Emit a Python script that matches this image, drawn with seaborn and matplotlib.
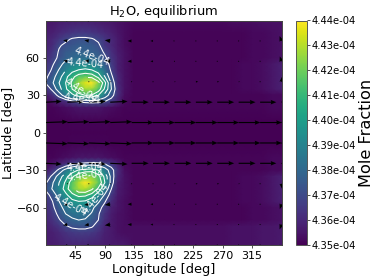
import numpy as np
import matplotlib
matplotlib.use("Agg")
import matplotlib.pyplot as plt
import seaborn as sns

# Mole fraction table (units of 1e-4): west part of each row (lon_west), then east part (lon_east).
lon_west = [0, 10, 20, 30, 40, 50, 60, 70, 80, 90, 100, 110, 120]
lon_east = [135, 150, 165, 180, 195, 210, 225, 240, 255, 270, 285, 300, 315, 330, 345, 360]
lat_grid = [90, 80, 75, 70, 65, 60, 55, 50, 45, 40, 35, 30, 25, 20, 10, 0,
            -10, -20, -25, -30, -35, -40, -45, -50, -55, -60, -65, -70, -75, -80, -90]

west_rows = [
    [4.355, 4.355, 4.356, 4.357, 4.357, 4.357, 4.357, 4.357, 4.356, 4.355, 4.355, 4.354, 4.353],
    [4.357, 4.358, 4.360, 4.362, 4.364, 4.365, 4.365, 4.364, 4.362, 4.360, 4.358, 4.355, 4.353],
    [4.358, 4.360, 4.364, 4.368, 4.371, 4.372, 4.372, 4.371, 4.368, 4.364, 4.360, 4.356, 4.353],
    [4.358, 4.361, 4.369, 4.372, 4.374, 4.376, 4.376, 4.375, 4.372, 4.364, 4.360, 4.356, 4.353],
    [4.359, 4.364, 4.371, 4.375, 4.377, 4.378, 4.378, 4.377, 4.375, 4.368, 4.362, 4.357, 4.354],
    [4.360, 4.366, 4.372, 4.377, 4.380, 4.382, 4.382, 4.381, 4.378, 4.372, 4.364, 4.358, 4.354],
    [4.362, 4.369, 4.376, 4.384, 4.389, 4.391, 4.391, 4.389, 4.385, 4.376, 4.366, 4.358, 4.354],
    [4.364, 4.372, 4.381, 4.390, 4.397, 4.401, 4.403, 4.401, 4.395, 4.382, 4.368, 4.358, 4.354],
    [4.368, 4.376, 4.386, 4.397, 4.407, 4.415, 4.418, 4.416, 4.407, 4.390, 4.372, 4.360, 4.354],
    [4.371, 4.379, 4.390, 4.400, 4.412, 4.426, 4.436, 4.440, 4.424, 4.403, 4.378, 4.360, 4.354],
    [4.362, 4.373, 4.386, 4.398, 4.410, 4.421, 4.428, 4.427, 4.416, 4.398, 4.380, 4.362, 4.354],
    [4.355, 4.362, 4.374, 4.386, 4.397, 4.405, 4.410, 4.409, 4.400, 4.386, 4.374, 4.362, 4.353],
    [4.352, 4.354, 4.358, 4.362, 4.367, 4.371, 4.373, 4.374, 4.373, 4.370, 4.365, 4.358, 4.352],
    [4.351, 4.351, 4.352, 4.353, 4.354, 4.355, 4.355, 4.355, 4.355, 4.354, 4.353, 4.352, 4.351],
    [4.350, 4.350, 4.350, 4.350, 4.351, 4.351, 4.351, 4.351, 4.351, 4.351, 4.350, 4.350, 4.350],
    [4.350, 4.350, 4.350, 4.350, 4.350, 4.350, 4.350, 4.350, 4.350, 4.350, 4.350, 4.350, 4.350],
    [4.350, 4.350, 4.350, 4.350, 4.351, 4.351, 4.351, 4.351, 4.351, 4.351, 4.350, 4.350, 4.350],
    [4.351, 4.351, 4.352, 4.353, 4.354, 4.355, 4.355, 4.355, 4.355, 4.354, 4.353, 4.352, 4.351],
    [4.352, 4.354, 4.358, 4.362, 4.367, 4.371, 4.373, 4.374, 4.373, 4.370, 4.365, 4.358, 4.352],
    [4.355, 4.362, 4.373, 4.384, 4.394, 4.401, 4.405, 4.406, 4.400, 4.386, 4.374, 4.362, 4.353],
    [4.362, 4.373, 4.385, 4.396, 4.408, 4.418, 4.423, 4.423, 4.414, 4.397, 4.376, 4.360, 4.354],
    [4.369, 4.379, 4.390, 4.402, 4.416, 4.430, 4.440, 4.432, 4.419, 4.400, 4.375, 4.358, 4.354],
    [4.372, 4.381, 4.392, 4.405, 4.418, 4.428, 4.430, 4.422, 4.408, 4.389, 4.370, 4.357, 4.354],
    [4.366, 4.374, 4.385, 4.397, 4.407, 4.413, 4.412, 4.406, 4.393, 4.378, 4.365, 4.356, 4.354],
    [4.363, 4.370, 4.380, 4.390, 4.397, 4.400, 4.399, 4.393, 4.382, 4.371, 4.361, 4.355, 4.353],
    [4.361, 4.368, 4.376, 4.384, 4.389, 4.390, 4.389, 4.383, 4.374, 4.366, 4.358, 4.355, 4.353],
    [4.360, 4.365, 4.373, 4.380, 4.384, 4.385, 4.384, 4.379, 4.371, 4.363, 4.357, 4.354, 4.353],
    [4.359, 4.363, 4.369, 4.375, 4.378, 4.380, 4.379, 4.375, 4.370, 4.361, 4.356, 4.354, 4.353],
    [4.358, 4.360, 4.364, 4.369, 4.372, 4.373, 4.373, 4.371, 4.366, 4.359, 4.356, 4.354, 4.353],
    [4.357, 4.358, 4.360, 4.363, 4.365, 4.366, 4.366, 4.365, 4.362, 4.358, 4.356, 4.354, 4.353],
    [4.357, 4.357, 4.358, 4.359, 4.359, 4.359, 4.359, 4.358, 4.358, 4.357, 4.356, 4.356, 4.356],
]
east_polar = [4.352, 4.352, 4.352, 4.352, 4.352, 4.352, 4.352, 4.352, 4.352, 4.352, 4.353, 4.353, 4.353, 4.354, 4.354, 4.354]
east_high  = [4.351, 4.351, 4.351, 4.351, 4.351, 4.351, 4.351, 4.351, 4.351, 4.351, 4.351, 4.351, 4.352, 4.352, 4.353, 4.354]
east_bump  = [4.351, 4.351, 4.351, 4.351, 4.351, 4.351, 4.351, 4.351, 4.351, 4.351, 4.351, 4.352, 4.352, 4.353, 4.355, 4.358]
east_low   = [4.351, 4.351, 4.351, 4.351, 4.351, 4.351, 4.351, 4.351, 4.351, 4.351, 4.351, 4.351, 4.351, 4.351, 4.352, 4.352]
east_zero  = [4.350, 4.350, 4.350, 4.350, 4.350, 4.350, 4.350, 4.350, 4.350, 4.350, 4.350, 4.350, 4.350, 4.350, 4.350, 4.350]
east_south = [4.353, 4.353, 4.353, 4.353, 4.353, 4.353, 4.353, 4.353, 4.353, 4.353, 4.354, 4.354, 4.354, 4.355, 4.355, 4.356]
east_rows = ([east_polar] + [east_high] * 5 + [east_bump] * 5 + [east_low] * 3 + [east_zero] * 3 +
             [east_low] * 3 + [east_bump] * 5 + [east_high] * 3 + [east_south] * 3)

# Wind vectors
lon_wind = [0, 32.7, 65.5, 98.2, 130.9, 163.6, 196.4, 229.1, 261.8, 294.5, 327.3, 360]
lat_wind = [90, 73.6, 57.3, 40.9, 24.5, 8.2, -8.2, -24.5, -40.9, -57.3, -73.6, -90]
u_90  = [-40, -120, -140, -100, -40, -30, -10, -10, -40, -40, -30, -40]
u_74  = [-90, -200, -210, -260, -190, -120, -70, -40, -30, -30, -40, -90]
u_57  = [-80, -190, -220, -260, -190, -120, -50, -30, -30, -30, -30, -80]
u_41  = [20, 20, 20, 20, 30, 40, 60, 110, 90, 60, 40, 20]
u_25  = [740, 800, 810, 820, 810, 800, 800, 800, 800, 800, 770, 740]
u_08  = [1030, 1030, 1030, 1030, 1030, 1030, 1030, 1030, 1030, 1030, 1030, 1030]
u_m08 = [1030, 1030, 1030, 1030, 1030, 1030, 1030, 1030, 1030, 1030, 1030, 1030]
u_m25 = [740, 800, 810, 820, 810, 800, 800, 800, 800, 800, 770, 740]
u_m41 = [20, 20, 20, 20, 30, 40, 60, 90, 90, 60, 40, 20]
u_m57 = [-80, -190, -220, -260, -190, -120, -50, -30, -30, -30, -30, -80]
u_m74 = [-90, -200, -210, -260, -190, -120, -70, -40, -30, -30, -40, -90]
u_m90 = [-40, -120, -140, -100, -40, -30, -10, -10, -40, -40, -30, -40]
v_north = [20, 20, 20, 20, 0, 0, 0, 0, 0, 0, 0, 120]
v_south = [-20, -20, -20, -20, 0, 0, 0, 0, 0, 0, 0, -120]
u_rows = [u_90, u_74, u_57, u_41, u_25, u_08, u_m08, u_m25, u_m41, u_m57, u_m74, u_m90]

cbar_ticks = [4.35, 4.36, 4.37, 4.38, 4.39, 4.40, 4.41, 4.42, 4.43, 4.44]
contour_levels = [4.37, 4.38, 4.39, 4.40, 4.41, 4.42]
lon_ticks = [45, 90, 135, 180, 225, 270, 315]
lat_ticks = [-60, -30, 0, 30, 60]
label_spots = [(71, 64), (60, 58), (53, 34), (56, 28), (60, -28), (60, -33), (33, -60), (76, -53)]

sns.set_theme(style="ticks", rc={"font.family": "DejaVu Sans"})
cmap = sns.color_palette("viridis", as_cmap=True)

W, H = 374, 280
fig = plt.figure(figsize=(W / 100, H / 100), dpi=100)
ax = fig.add_axes([46 / W, 1 - 245 / H, 235.5 / W, 224.5 / H])
cax = fig.add_axes([296 / W, 1 - 245 / H, 11 / W, 224.5 / H])

LON, LAT = np.meshgrid(lon_west + lon_east, lat_grid)
Z = np.hstack([np.array(west_rows), np.array(east_rows)]) * 1e-4
mesh = ax.pcolormesh(LON, LAT, Z, shading="gouraud", cmap=cmap, vmin=4.35e-4, vmax=4.44e-4, rasterized=True)

cs = ax.contour(LON, LAT, Z, levels=[v * 1e-4 for v in contour_levels], colors="white", linewidths=0.75)
ax.clabel(cs, fmt="%.1e", fontsize=7, colors="white", manual=label_spots, inline=True)

U = np.array(u_rows, dtype=float)
V = np.array([v_north] * 6 + [v_south] * 6, dtype=float)
LONW, LATW = np.meshgrid(lon_wind, lat_wind)
ax.quiver(LONW, LATW, U, V, color="black", angles="xy", scale_units="xy", scale=31,
          width=0.0048, headwidth=4, headlength=5, headaxislength=4.5, zorder=3)

ax.set_xlim(0, 360)
ax.set_ylim(-90, 90)
ax.set_xticks(lon_ticks)
ax.set_yticks(lat_ticks)
ax.tick_params(labelsize=8, length=2.5, width=0.6, pad=2, color="#333333", labelcolor="black")
ax.set_xlabel("Longitude [deg]", fontsize=9.3, labelpad=1, color="black")
ax.set_ylabel("Latitude [deg]", fontsize=9.3, labelpad=1, color="black")
ax.set_title("H$_2$O, equilibrium", fontsize=9.4, pad=3, color="black")
for s in ax.spines.values():
    s.set_linewidth(0.7)
    s.set_color("#444444")
    s.set_visible(True)

cb = fig.colorbar(mesh, cax=cax, ticks=[v * 1e-4 for v in cbar_ticks], format="%.2e")
cb.ax.tick_params(labelsize=7.2, length=2, width=0.6, pad=1.5, color="#333333", labelcolor="black")
cb.set_label("Mole Fraction", fontsize=11.6, labelpad=2, color="black")
cb.outline.set_linewidth(0.7)
cb.outline.set_edgecolor("#555555")

fig.savefig("out.png", dpi=100)
